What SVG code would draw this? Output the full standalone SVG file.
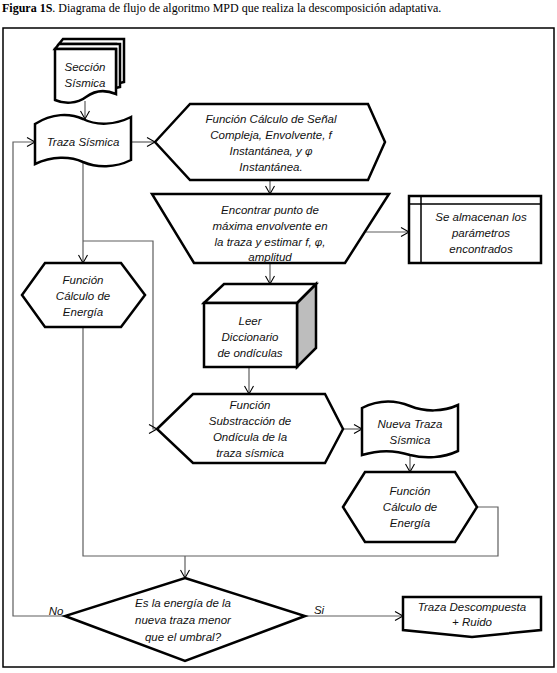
<svg xmlns="http://www.w3.org/2000/svg" width="557" height="673" viewBox="0 0 557 673">
<style>
.s{fill:#fff;stroke:#000;stroke-width:2.5;stroke-linejoin:miter}
.t{font-family:"Liberation Sans",Arial,sans-serif;font-style:italic;font-size:11.5px;fill:#111;text-anchor:middle}
.c{fill:none;stroke:#5e5e5e;stroke-width:1.2}
.title{font-family:"Liberation Serif","Times New Roman",serif;font-size:12px;fill:#000}
</style>
<defs>
<marker id="ar" markerUnits="userSpaceOnUse" markerWidth="12" markerHeight="12" refX="9" refY="5" orient="auto">
<path d="M1,0.5 L9,5 L1,9.5" fill="none" stroke="#000" stroke-width="1.1"/>
</marker>
</defs>
<rect width="557" height="673" fill="#fff"/>
<text class="title" x="2" y="12"><tspan font-weight="bold">Figura 1S</tspan>. Diagrama de flujo de algoritmo MPD que realiza la descomposición adaptativa.</text>
<rect x="3" y="28" width="551" height="639" fill="none" stroke="#000" stroke-width="1.5"/>

<g id="connectors">
<path class="c" d="M85,101 V119" marker-end="url(#ar)"/>
<path class="c" d="M131,142 H155" marker-end="url(#ar)"/>
<path class="c" d="M270,180 V194" marker-end="url(#ar)"/>
<path class="c" d="M366,232 H409" marker-end="url(#ar)"/>
<path class="c" d="M270,263 V284" marker-end="url(#ar)"/>
<path class="c" d="M249,367 V394" marker-end="url(#ar)"/>
<path class="c" d="M83,163 V263" marker-end="url(#ar)"/>
<path class="c" d="M83,241 H153 V429 H157" marker-end="url(#ar)"/>
<path class="c" d="M343,429 H362" marker-end="url(#ar)"/>
<path class="c" d="M410,456 V472" marker-end="url(#ar)"/>
<path class="c" d="M83,327 V556 H498 V507 H477"/>
<path class="c" d="M185,556 V578" marker-end="url(#ar)"/>
<path class="c" d="M65,616 H13 V142 H35" marker-end="url(#ar)"/>
<path class="c" d="M305,616 H403" marker-end="url(#ar)"/>
</g>

<g id="seccion-sismica">
<path class="s" d="M63,39 H124 V82 L116,84 V44 H59 Z"/>
<path class="s" d="M59,44 H120 V87 L116,88 V49 H55 Z"/>
<path class="s" d="M55,49 H116 V94 C104,89 94,91 86,97 C77,104 64,104 55,100 Z"/>
<text class="t" x="85" y="71">Sección</text>
<text class="t" x="85" y="87">Sísmica</text>
</g>

<g id="traza-sismica">
<path class="s" d="M35,124 C52,113 70,113 83,119 C97,126 115,125 131,117 V160 C115,168 97,168 83,162 C70,156 52,156 35,164 Z"/>
<text class="t" x="83" y="146">Traza Sísmica</text>
</g>

<g id="funcion-senal">
<path class="s" d="M155,142 L190,104 H368 L385,142 L368,180 H190 Z"/>
<text class="t" x="271" y="123">Función Cálculo de Señal</text>
<text class="t" x="271" y="139">Compleja, Envolvente, f</text>
<text class="t" x="271" y="155">Instantánea, y φ</text>
<text class="t" x="271" y="171">Instantánea.</text>
</g>

<g id="encontrar-punto">
<path class="s" d="M152,194 H389 L345,263 H194 Z"/>
<text class="t" x="270" y="214">Encontrar punto de</text>
<text class="t" x="270" y="230">máxima envolvente en</text>
<text class="t" x="270" y="246">la traza y estimar  f, φ,</text>
<text class="t" x="270" y="261">amplitud</text>
</g>

<g id="almacenan">
<rect class="s" x="409" y="196" width="132" height="67"/>
<path d="M409,204 H541 M421,196 V263" stroke="#000" stroke-width="1.5" fill="none"/>
<text class="t" x="481" y="221">Se almacenan los</text>
<text class="t" x="481" y="237">parámetros</text>
<text class="t" x="481" y="253">encontrados</text>
</g>

<g id="energia-1">
<path class="s" d="M22,295 L45,263 H121 L145,295 L121,327 H45 Z"/>
<text class="t" x="83" y="284">Función</text>
<text class="t" x="83" y="300">Cálculo de</text>
<text class="t" x="83" y="316">Energía</text>
</g>

<g id="leer-diccionario">
<path d="M297,303 L316,284 V348 L297,367 Z" fill="#bdbdbd" stroke="#000" stroke-width="2.5" stroke-linejoin="miter"/>
<path class="s" d="M204,303 L224,284 H316 L297,303 Z"/>
<rect class="s" x="204" y="303" width="93" height="64"/>
<text class="t" x="250" y="325">Leer</text>
<text class="t" x="250" y="341">Diccionario</text>
<text class="t" x="250" y="357">de ondículas</text>
</g>

<g id="substraccion">
<path class="s" d="M157,429 L193,394 H325 L343,429 L325,463 H193 Z"/>
<text class="t" x="250" y="409">Función</text>
<text class="t" x="250" y="425">Substracción de</text>
<text class="t" x="250" y="441">Ondícula de la</text>
<text class="t" x="250" y="457">traza sísmica</text>
</g>

<g id="nueva-traza">
<path class="s" d="M362,408 C378,400 395,400 410,406 C425,412 443,412 458,405 V451 C443,458 425,459 410,455 C395,450 378,450 362,455 Z"/>
<text class="t" x="410" y="428">Nueva Traza</text>
<text class="t" x="410" y="444">Sísmica</text>
</g>

<g id="energia-2">
<path class="s" d="M343,507 L365,472 H455 L477,507 L455,542 H365 Z"/>
<text class="t" x="410" y="495">Función</text>
<text class="t" x="410" y="511">Cálculo de</text>
<text class="t" x="410" y="527">Energía</text>
</g>

<g id="decision">
<path class="s" d="M185,578 L305,616 L185,661 L65,616 Z"/>
<text class="t" x="183" y="607">Es la energía de la</text>
<text class="t" x="183" y="624">nueva traza menor</text>
<text class="t" x="183" y="641">que el umbral?</text>
<text class="t" x="56" y="615">No</text>
<text class="t" x="319" y="614">Si</text>
</g>

<g id="traza-descompuesta">
<path class="s" d="M403,597 H541 V630 L472,637 L403,630 Z"/>
<text class="t" x="472" y="611">Traza Descompuesta</text>
<text class="t" x="472" y="626">+ Ruido</text>
</g>
</svg>
